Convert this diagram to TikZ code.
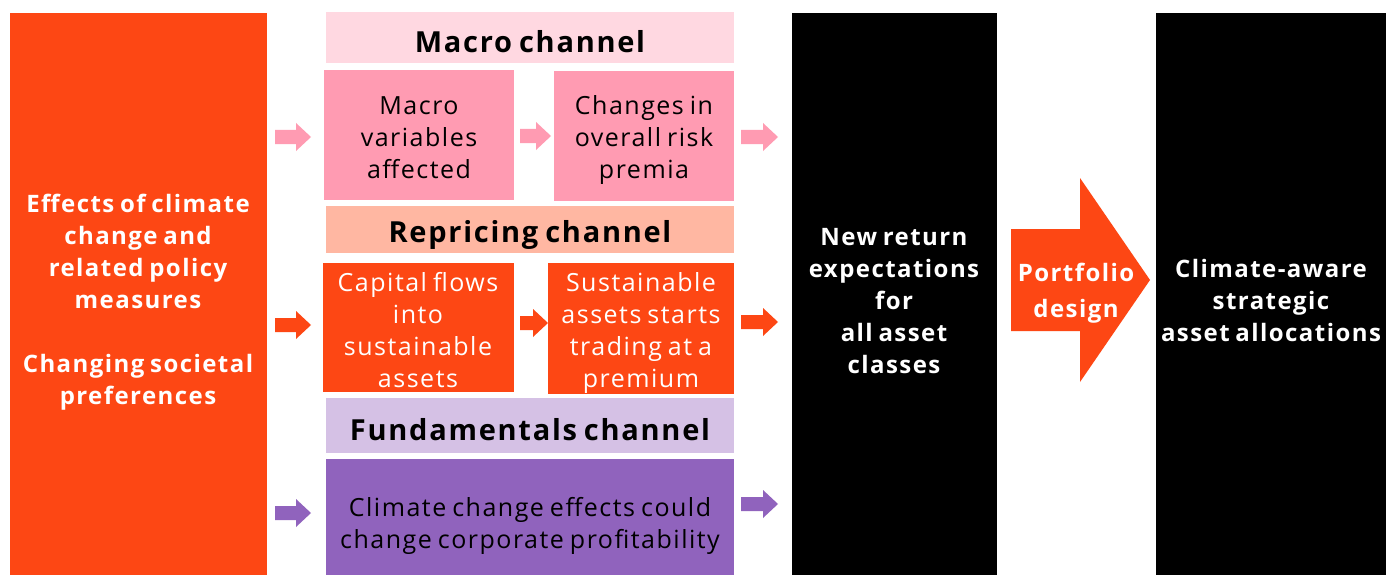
\documentclass[tikz,border=0pt]{standalone}
\usepackage{fontspec}
\setmainfont{Open Sans}[LetterSpace=6,WordSpace=0.75]
\definecolor{orng}{HTML}{FD4714}
\definecolor{pinkbox}{HTML}{FF9BB2}
\definecolor{pinkhead}{HTML}{FFD8E1}
\definecolor{salmon}{HTML}{FFB7A2}
\definecolor{lav}{HTML}{D5C1E5}
\definecolor{purp}{HTML}{9063BD}
\newcommand{\blockarr}[4]{% x, y(center), length, color
  \fill[#4] (#1,#2-7) -- ++(#3-15,0) -- ++(0,-7) -- (#1+#3,#2) -- (#1+#3-15,#2+14) -- ++(0,-7) -- (#1,#2+7) -- cycle;}
\begin{document}
\begin{tikzpicture}[x=1pt,y=-1pt,
  txt/.style={font=\fontsize{25}{32}\selectfont, align=center, inner sep=0pt},
  btxt/.style={font=\bfseries\fontsize{24}{32}\selectfont, align=center, inner sep=0pt},
  htxt/.style={font=\bfseries\fontsize{29}{32}\selectfont, align=center, inner sep=0pt}]
\useasboundingbox[fill=white] (0,0) rectangle (1386,575);
% left box
\fill[orng] (10,13) rectangle (267,575);
\node[btxt, text=white] (left) at (138,302) {Effects of climate\\change and\\related policy\\measures\\[32pt]Changing societal\\preferences};
% macro channel
\fill[pinkhead] (326,12) rectangle (734,63);
\node[htxt] (machead) at (530,42) {Macro channel};
\fill[pinkbox] (324,70) rectangle (514,200);
\node[txt] (macvar) at (419,138) {Macro\\variables\\affected};
\fill[pinkbox] (554,71) rectangle (734,201);
\node[txt] (risk) at (644,140) {Changes in\\overall risk\\premia};
% repricing
\fill[salmon] (326,206) rectangle (734,253);
\node[htxt] (rephead) at (530,235) {Repricing channel};
\fill[orng] (323,263) rectangle (514,392);
\node[txt, text=white] (capflow) at (418,330) {Capital flows\\into\\sustainable\\assets};
\fill[orng] (548,263) rectangle (734,394);
\node[txt, text=white] (sust) at (641,333) {Sustainable\\assets starts\\trading at a\\premium};
% fundamentals
\fill[lav] (326,398) rectangle (734,453);
\node[htxt] (funhead) at (530,430) {Fundamentals channel};
\fill[purp] (326,459) rectangle (734,575);
\node[txt] (clim) at (530,526) {Climate change effects could\\change corporate profitability};
% black box 1
\fill[black] (792,13) rectangle (997,575);
\node[btxt, text=white] (ret) at (894,301) {New return\\expectations\\for\\all asset\\classes};
% big arrow
\fill[orng] (1011,229) -- (1080,229) -- (1080,178) -- (1150,280) -- (1080,382) -- (1080,331) -- (1011,331) -- cycle;
\node[btxt, text=white, font=\bfseries\fontsize{24}{36}\selectfont] (port) at (1076,293) {Portfolio\\design};
% black box 2
\fill[black] (1156,13) rectangle (1386,575);
\node[btxt, text=white] (alloc) at (1271,300) {Climate-aware\\strategic\\asset allocations};
% small arrows
\blockarr{275}{137}{36}{pinkbox}
\blockarr{520}{136}{31}{pinkbox}
\blockarr{741}{137}{37}{pinkbox}
\blockarr{275}{325}{36}{orng}
\blockarr{520}{323}{28}{orng}
\blockarr{741}{322}{37}{orng}
\blockarr{275}{513}{36}{purp}
\blockarr{741}{504}{37}{purp}
\end{tikzpicture}
\end{document}
